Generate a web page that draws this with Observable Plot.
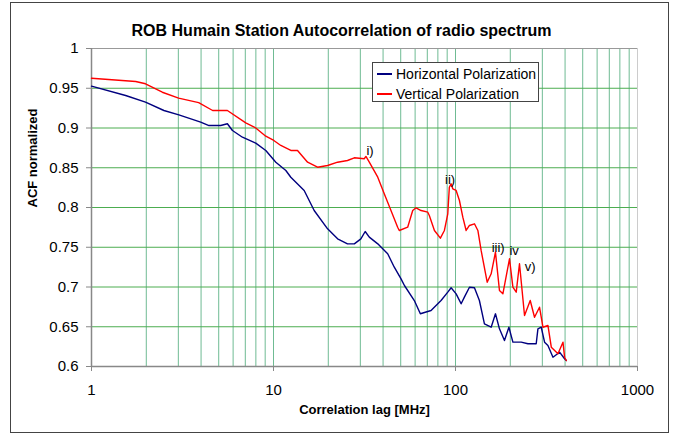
<!DOCTYPE html>
<html>
<head>
<meta charset="utf-8">
<script src="https://cdn.jsdelivr.net/npm/d3@7"></script>
<script src="https://cdn.jsdelivr.net/npm/@observablehq/plot@0.6"></script>
<style>
  body { margin: 0; background: #fff; }
  #wrap { position: relative; width: 674px; height: 434px; font-family: "Liberation Sans", Arial, sans-serif; }
  #frame { position: absolute; left: 10px; top: 2px; width: 657px; height: 429px; border: 1px solid #444; pointer-events: none; }
  #legend { position: absolute; left: 372px; top: 62px; width: 165px; height: 38px; border: 1px solid #444; background: #fff; font-size: 14px; color: #000; }
  .row { position: absolute; left: 4px; height: 16px; line-height: 16px; white-space: nowrap; }
  .sw { display: inline-block; width: 15px; height: 0; border-top: 2px solid; vertical-align: middle; margin-right: 4px; position: relative; top: -1px; }
</style>
</head>
<body>
<div id="wrap">
  <div id="chart"></div>
  <div id="frame"></div>
  <div id="legend"></div>
</div>
<script>
// ---- data ----
const titleText = "ROB Humain Station Autocorrelation of radio spectrum";
const xLabel = "Correlation lag [MHz]";
const yLabel = "ACF normalized";
const seriesNames = ["Horizontal Polarization", "Vertical Polarization"];
const seriesColors = ["#00007f", "#ff0000"];

const xTicks = [1, 10, 100, 1000];
const xGrid = [2,3,4,5,6,7,8,9,10,20,30,40,50,60,70,80,90,100,200,300,400,500,600,700,800,900];
const yTicks = [0.6, 0.65, 0.7, 0.75, 0.8, 0.85, 0.9, 0.95, 1];

// Horizontal polarization
const lagH = [1, 1.54, 1.98, 2.5, 3.02, 3.98, 4.42, 5.13, 5.58, 5.95, 6.75, 7.99, 9.07, 10.3, 11.69, 12.45, 14.74, 16.73, 19.82, 22.5, 25.5, 27.8, 30.2, 31.9, 33.6, 37.4, 42.4, 46.1, 50.2, 52.4, 59.4, 64.1, 73.4, 83.3, 90.7, 94.6, 100.8, 107.4, 111.9, 119.3, 127.1, 135.3, 144.2, 157, 165.8, 174.4, 185.8, 196.5, 206.7, 229.6, 250, 277.6, 283.7, 295.9, 308.6, 322, 343.2, 373.1, 397.5, 406.2];
const acfH = [0.9526, 0.9409, 0.9325, 0.922, 0.9166, 0.9073, 0.9031, 0.9031, 0.9053, 0.8969, 0.8884, 0.8809, 0.8717, 0.857, 0.8465, 0.8381, 0.8214, 0.7962, 0.7732, 0.7606, 0.7543, 0.7543, 0.7606, 0.7698, 0.7627, 0.7543, 0.7418, 0.7249, 0.7103, 0.7019, 0.683, 0.6663, 0.6704, 0.683, 0.6935, 0.699, 0.6914, 0.6789, 0.6872, 0.6997, 0.699, 0.683, 0.6537, 0.6494, 0.6663, 0.6474, 0.6327, 0.6494, 0.6306, 0.6306, 0.6286, 0.6286, 0.6474, 0.6494, 0.6306, 0.6264, 0.6117, 0.618, 0.6097, 0.6075];

// Vertical polarization
const lagV = [1, 1.75, 1.98, 2.45, 3.01, 3.88, 4.63, 5.26, 5.58, 7.04, 7.99, 9.07, 10.04, 10.97, 12.45, 13.55, 15.39, 17.46, 19.82, 22.5, 25.5, 27.8, 31.5, 32.2, 33.6, 37.4, 40.6, 44.2, 48.1, 49.1, 54.6, 58.2, 60.7, 64.7, 70.4, 71.8, 76.6, 82.6, 86.9, 90.7, 92.5, 94.6, 96.6, 100.8, 105.1, 109.7, 114.4, 119.3, 127.1, 132.7, 138.3, 149.3, 157, 165.8, 174.4, 182.1, 198, 206.7, 215.6, 224.7, 239.5, 257.4, 271.8, 289.5, 302.3, 322, 336, 365.6, 389.5, 397.5, 406.2];
const acfV = [0.9626, 0.9585, 0.9556, 0.945, 0.9375, 0.932, 0.922, 0.922, 0.922, 0.9065, 0.9, 0.8897, 0.8843, 0.878, 0.8717, 0.8717, 0.857, 0.8507, 0.8528, 0.857, 0.8591, 0.8625, 0.8613, 0.8642, 0.857, 0.8381, 0.8172, 0.7962, 0.7752, 0.7711, 0.7752, 0.7962, 0.7996, 0.7962, 0.7941, 0.79, 0.7711, 0.7614, 0.7711, 0.7921, 0.8255, 0.8298, 0.8235, 0.8214, 0.8088, 0.7878, 0.7711, 0.7774, 0.7795, 0.7711, 0.746, 0.706, 0.7166, 0.7438, 0.6956, 0.6914, 0.7355, 0.6998, 0.6935, 0.7292, 0.6642, 0.683, 0.662, 0.6746, 0.6494, 0.6516, 0.6243, 0.616, 0.6306, 0.6117, 0.6075];

// annotations
const annLabels = ["i)", "ii)", "iii)", "iv", "v)"];
const annX = [33.9, 93.4, 171.5, 210, 257];
const annY = [0.8717, 0.835, 0.7497, 0.746, 0.7258];

// ---- build ----
const H = lagH.map((x, i) => ({x, y: acfH[i]}));
const V = lagV.map((x, i) => ({x, y: acfV[i]}));
const ann = annLabels.map((t, i) => ({t, x: annX[i], y: annY[i]}));
const fmtY = d => String(+d.toFixed(2));

const chart = Plot.plot({
  width: 674,
  height: 434,
  marginTop: 48,
  marginLeft: 91,
  marginRight: 37,
  marginBottom: 68,
  style: { fontFamily: "'Liberation Sans', Arial, sans-serif", background: "transparent", color: "#000" },
  x: { type: "log", domain: [1, 1000] },
  y: { domain: [0.6, 1] },
  marks: [
    Plot.ruleX(xGrid, { stroke: "#6fbb93", strokeWidth: 1 }),
    Plot.ruleY(yTicks.filter(d => d > 0.6 && d < 1), { stroke: "#4cad50", strokeWidth: 1 }),
    Plot.ruleY([1], { stroke: "#999", strokeWidth: 1 }),
    Plot.ruleX([1000], { stroke: "#ccc", strokeWidth: 1 }),
    Plot.axisY({ ticks: yTicks, tickSize: 5, tickPadding: 8, fontSize: 15, label: null, tickFormat: fmtY, stroke: "#888" }),
    Plot.axisX({ ticks: xTicks, tickSize: 5, tickPadding: 13, fontSize: 15, label: null, tickFormat: d => String(d), stroke: "#888" }),
    Plot.ruleX([1], { stroke: "#888", strokeWidth: 1.5 }),
    Plot.ruleY([0.6], { stroke: "#888", strokeWidth: 1.5 }),
    Plot.line(H, { x: "x", y: "y", stroke: seriesColors[0], strokeWidth: 1.4 }),
    Plot.line(V, { x: "x", y: "y", stroke: seriesColors[1], strokeWidth: 1.4 }),
    Plot.text(ann, { x: "x", y: "y", text: "t", fontSize: 13, fill: "#000" }),
    Plot.text([titleText], { frameAnchor: "top", dx: -23, dy: -24, fontSize: 16, fontWeight: "bold", fill: "#000" }),
    Plot.text([xLabel], { frameAnchor: "bottom", dy: 47, fontSize: 13, fontWeight: "bold", fill: "#000" }),
    Plot.text([yLabel], { frameAnchor: "left", dx: -59, rotate: -90, fontSize: 13, fontWeight: "bold", fill: "#000" })
  ]
});
document.getElementById("chart").appendChild(chart);

const leg = document.getElementById("legend");
seriesNames.forEach((n, i) => {
  const r = document.createElement("div");
  r.className = "row";
  r.style.top = (i === 0 ? 3 : 23) + "px";
  const sw = document.createElement("span");
  sw.className = "sw";
  sw.style.borderColor = seriesColors[i];
  r.appendChild(sw);
  r.appendChild(document.createTextNode(n));
  leg.appendChild(r);
});
</script>
</body>
</html>
